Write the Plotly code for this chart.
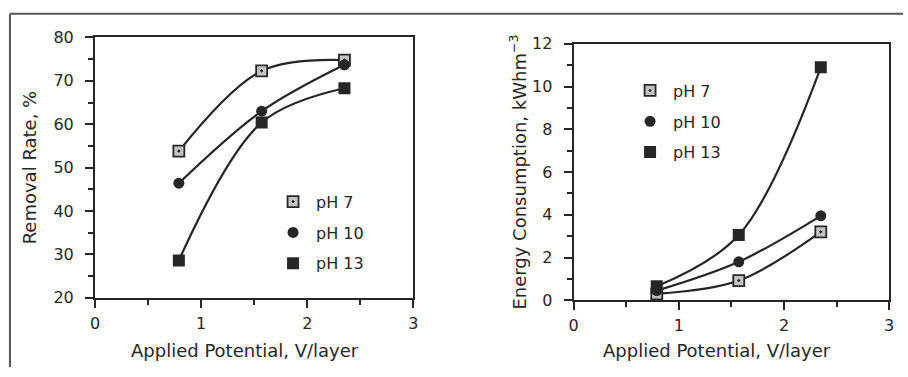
import plotly.graph_objects as go

# ---- data ----
potential = [0.79, 1.57, 2.35]
series_names = ["pH 7", "pH 10", "pH 13"]
removal_ph7 = [53.8, 72.3, 74.8]
removal_ph10 = [46.4, 63.0, 73.7]
removal_ph13 = [28.6, 60.4, 68.3]
energy_ph7 = [0.30, 0.92, 3.20]
energy_ph10 = [0.45, 1.80, 3.95]
energy_ph13 = [0.65, 3.05, 10.90]
x_title = "Applied Potential, V/layer"

W, H = 908, 377
FONT = "DejaVu Sans, Liberation Sans, Arial, sans-serif"
INK = "#262626"

markers = [
    dict(symbol="square-dot", size=11, color="#c4c4c4", line=dict(color=INK, width=1.8)),
    dict(symbol="circle", size=11, color=INK, line=dict(color=INK, width=0)),
    dict(symbol="square", size=12, color=INK, line=dict(color=INK, width=0)),
]

fig = go.Figure()

def add_panel(ys, xa, ya, legend):
    for name, y, mk in zip(series_names, ys, markers):
        fig.add_trace(go.Scatter(
            x=potential, y=y, mode="lines+markers", xaxis=xa, yaxis=ya,
            line=dict(color=INK, width=2.2, shape="spline", smoothing=1.0),
            marker=mk, showlegend=False, hoverinfo="skip"))
    for name, mk in zip(series_names, markers):
        fig.add_trace(go.Scatter(
            x=[None], y=[None], mode="markers", xaxis=xa, yaxis=ya,
            marker=mk, name=name, legend=legend, legendgroup=legend + name,
            showlegend=True))

add_panel([removal_ph7, removal_ph10, removal_ph13], "x", "y", "legend")
add_panel([energy_ph7, energy_ph10, energy_ph13], "x2", "y2", "legend2")

def px_x(p):
    return p / W

def px_y(p):
    return 1 - p / H

axis_common = dict(
    showline=True, mirror=True, linecolor=INK, linewidth=2,
    ticks="outside", ticklen=8, tickwidth=2, tickcolor=INK,
    showgrid=False, zeroline=False,
    tickfont=dict(family=FONT, size=16, color=INK),
)

fig.update_layout(
    width=W, height=H,
    margin=dict(l=0, r=0, t=0, b=0),
    paper_bgcolor="white", plot_bgcolor="white",
    font=dict(family=FONT, color=INK),
    xaxis=dict(domain=[px_x(91), px_x(413)], range=[0, 3], dtick=1,
               minor=dict(dtick=0.5, ticks="outside", ticklen=5, tickwidth=1.5, tickcolor=INK),
               ticklabelstandoff=2, anchor="y", **axis_common),
    yaxis=dict(domain=[px_y(304), px_y(30)], range=[20, 80], dtick=10,
               minor=dict(dtick=5, ticks="outside", ticklen=5, tickwidth=1.5, tickcolor=INK),
               ticklabelstandoff=8, anchor="x",
               title=dict(text="Removal Rate, %", font=dict(family=FONT, size=18, color=INK), standoff=12),
               **axis_common),
    xaxis2=dict(domain=[px_x(575), px_x(894)], range=[0, 3], dtick=1,
                minor=dict(dtick=0.5, ticks="outside", ticklen=5, tickwidth=1.5, tickcolor=INK),
                ticklabelstandoff=2, anchor="y2", **axis_common),
    yaxis2=dict(domain=[px_y(306.7), px_y(36.7)], range=[0, 12], dtick=2,
                minor=dict(dtick=1, ticks="outside", ticklen=5, tickwidth=1.5, tickcolor=INK),
                ticklabelstandoff=8, anchor="x2",
                title=dict(text="Energy Consumption, kWhm<sup>−3</sup>",
                           font=dict(family=FONT, size=18, color=INK), standoff=1),
                **axis_common),
    legend=dict(x=px_x(268), y=px_y(185), xanchor="left", yanchor="top",
                bgcolor="rgba(0,0,0,0)", font=dict(family=FONT, size=16, color=INK),
                traceorder="grouped", tracegroupgap=7, itemwidth=36, itemclick=False),
    legend2=dict(x=px_x(629), y=px_y(68), xanchor="left", yanchor="top",
                 bgcolor="rgba(0,0,0,0)", font=dict(family=FONT, size=16, color=INK),
                 traceorder="grouped", tracegroupgap=7, itemwidth=36, itemclick=False),
    annotations=[
        dict(text=x_title, xref="paper", yref="paper", x=px_x(243), y=px_y(360),
             xanchor="center", yanchor="middle", showarrow=False,
             font=dict(family=FONT, size=18, color=INK)),
        dict(text=x_title, xref="paper", yref="paper", x=px_x(720), y=px_y(360),
             xanchor="center", yanchor="middle", showarrow=False,
             font=dict(family=FONT, size=18, color=INK)),
    ],
    shapes=[
        dict(type="line", xref="paper", yref="paper",
             x0=px_x(5), x1=px_x(5), y0=0, y1=px_y(5),
             line=dict(color="#555555", width=2)),
        dict(type="line", xref="paper", yref="paper",
             x0=px_x(5), x1=1, y0=px_y(5), y1=px_y(5),
             line=dict(color="#555555", width=2)),
    ],
)

fig.write_html("out.html")
